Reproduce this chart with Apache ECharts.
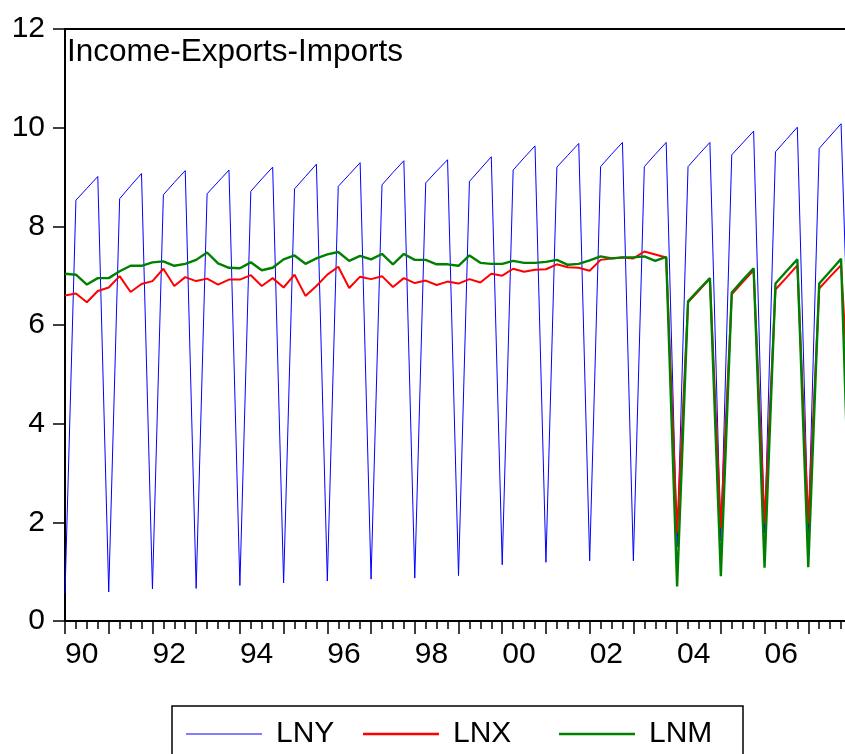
<!DOCTYPE html>
<html>
<head>
<meta charset="utf-8">
<title>Income-Exports-Imports</title>
<script src="https://cdn.jsdelivr.net/npm/echarts@6/dist/echarts.min.js"></script>
<style>
  html, body { margin: 0; padding: 0; background: #fff; overflow: hidden; }
  /* the plot runs on past the right edge of the window, so the canvas is wider */
  #chart { width: 870px; height: 754px; }
</style>
</head>
<body>
<div id="chart"></div>
<script>
// Quarterly observations, 1990Q1 onwards (one value per quarter)
const startYear = 1990;
const quartersPerYear = 4;

// LNY: log income
const lny = [
  0.56, 8.53, 8.77, 9.01,   0.59, 8.56, 8.82, 9.07,   0.65, 8.64, 8.89, 9.13,
  0.66, 8.66, 8.90, 9.14,   0.72, 8.71, 8.96, 9.20,   0.77, 8.76, 9.01, 9.26,
  0.81, 8.81, 9.05, 9.29,   0.85, 8.84, 9.09, 9.33,   0.87, 8.88, 9.12, 9.35,
  0.92, 8.91, 9.16, 9.41,   1.14, 9.14, 9.39, 9.63,   1.19, 9.20, 9.44, 9.68,
  1.22, 9.21, 9.46, 9.70,   1.22, 9.21, 9.46, 9.70,   1.50, 9.21, 9.46, 9.70,
  1.62, 9.45, 9.69, 9.93,   1.78, 9.51, 9.76, 10.01,  1.78, 9.58, 9.83, 10.08,
  3.00
];

// LNX: log exports
const lnx = [
  6.60, 6.64, 6.46, 6.69,   6.76, 6.99, 6.67, 6.83,   6.89, 7.14, 6.79, 6.97,
  6.89, 6.94, 6.82, 6.92,   6.92, 7.01, 6.79, 6.95,   6.76, 7.02, 6.59, 6.79,
  7.02, 7.18, 6.75, 6.98,   6.93, 6.99, 6.77, 6.95,   6.85, 6.90, 6.81, 6.88,
  6.84, 6.93, 6.86, 7.04,   7.00, 7.14, 7.08, 7.12,   7.13, 7.23, 7.17, 7.16,
  7.10, 7.32, 7.35, 7.37,   7.35, 7.49, 7.43, 7.37,   1.78, 6.46, 6.70, 6.94,
  1.87, 6.62, 6.87, 7.11,   1.97, 6.72, 6.96, 7.21,   1.97, 6.74, 6.98, 7.21,
  3.40
];

// LNM: log imports
const lnm = [
  7.04, 7.02, 6.82, 6.95,   6.95, 7.09, 7.20, 7.20,   7.27, 7.29, 7.20, 7.24,
  7.32, 7.47, 7.25, 7.16,   7.15, 7.27, 7.11, 7.16,   7.33, 7.41, 7.24, 7.35,
  7.43, 7.48, 7.30, 7.40,   7.33, 7.44, 7.23, 7.44,   7.32, 7.32, 7.23, 7.23,
  7.20, 7.41, 7.26, 7.24,   7.24, 7.30, 7.26, 7.26,   7.28, 7.32, 7.22, 7.24,
  7.31, 7.39, 7.35, 7.37,   7.37, 7.39, 7.30, 7.38,   0.70, 6.48, 6.72, 6.95,
  0.91, 6.66, 6.91, 7.15,   1.08, 6.84, 7.09, 7.33,   1.09, 6.84, 7.09, 7.34,
  0.30
];

// Year labels shown under the time axis (every other year)
const yearLabels = { 1990: '90', 1992: '92', 1994: '94', 1996: '96', 1998: '98',
                     2000: '00', 2002: '02', 2004: '04', 2006: '06' };

const seriesNames = ['LNY', 'LNX', 'LNM'];
const seriesColors = ['#0000ff', '#ff0000', '#008000'];
const seriesWidths = [1, 2, 2.4];

const FONT = '"Liberation Sans", Arial, sans-serif';
const toPoints = arr => arr.map((v, i) => [i, v]);
const lastIndex = lny.length - 1;

const chart = echarts.init(document.getElementById('chart'), null, { renderer: 'canvas' });

const legendLeft = [186, 363, 559];

chart.setOption({
  animation: false,
  backgroundColor: '#ffffff',
  title: {
    text: 'Income-Exports-Imports',
    left: 67,
    top: 36,
    padding: 0,
    textStyle: { fontFamily: FONT, fontSize: 31.5, fontWeight: 'normal', color: '#000' }
  },
  grid: {
    left: 65, top: 29, bottom: 133, width: 787,
    show: true, borderColor: '#000', borderWidth: 2, backgroundColor: 'transparent'
  },
  legend: seriesNames.map((name, k) => ({
    data: [name],
    left: legendLeft[k],
    top: 719,
    padding: 0,
    icon: 'rect',
    itemWidth: 76,
    itemHeight: seriesWidths[k] < 1.5 ? 1.2 : 2.4,
    textStyle: { fontFamily: FONT, fontSize: 30, color: '#000', padding: [0, 0, 0, 9], lineHeight: 30 }
  })),
  graphic: [{
    type: 'rect',
    shape: { x: 172, y: 706, width: 571, height: 60 },
    style: { fill: 'none', stroke: '#000', lineWidth: 1.5 },
    silent: true
  }],
  xAxis: {
    type: 'value',
    min: 0,
    max: lastIndex,
    interval: quartersPerYear,
    axisLine: { show: true, onZero: false, lineStyle: { color: '#000', width: 2 } },
    axisTick: { show: true, length: 13, lineStyle: { color: '#000', width: 1.5 } },
    minorTick: { show: true, splitNumber: quartersPerYear, length: 8, lineStyle: { color: '#000', width: 1.5 } },
    splitLine: { show: false },
    minorSplitLine: { show: false },
    axisLabel: {
      fontFamily: FONT, fontSize: 30, color: '#000', align: 'left', margin: 19,
      formatter: v => {
        const yr = startYear + Math.round(v / quartersPerYear);
        return yearLabels[yr] || '';
      }
    }
  },
  yAxis: {
    type: 'value',
    min: 0,
    max: 12,
    interval: 2,
    axisLine: { show: true, lineStyle: { color: '#000', width: 2 } },
    axisTick: { show: true, length: 12, lineStyle: { color: '#000', width: 1.5 } },
    splitLine: { show: false },
    axisLabel: { fontFamily: FONT, fontSize: 30, color: '#000', margin: 20 }
  },
  series: [lny, lnx, lnm].map((arr, k) => ({
    name: seriesNames[k],
    type: 'line',
    data: toPoints(arr),
    symbol: 'none',
    color: seriesColors[k],
    lineStyle: { color: seriesColors[k], width: seriesWidths[k] },
    z: 2 + k
  }))
});
</script>
</body>
</html>
